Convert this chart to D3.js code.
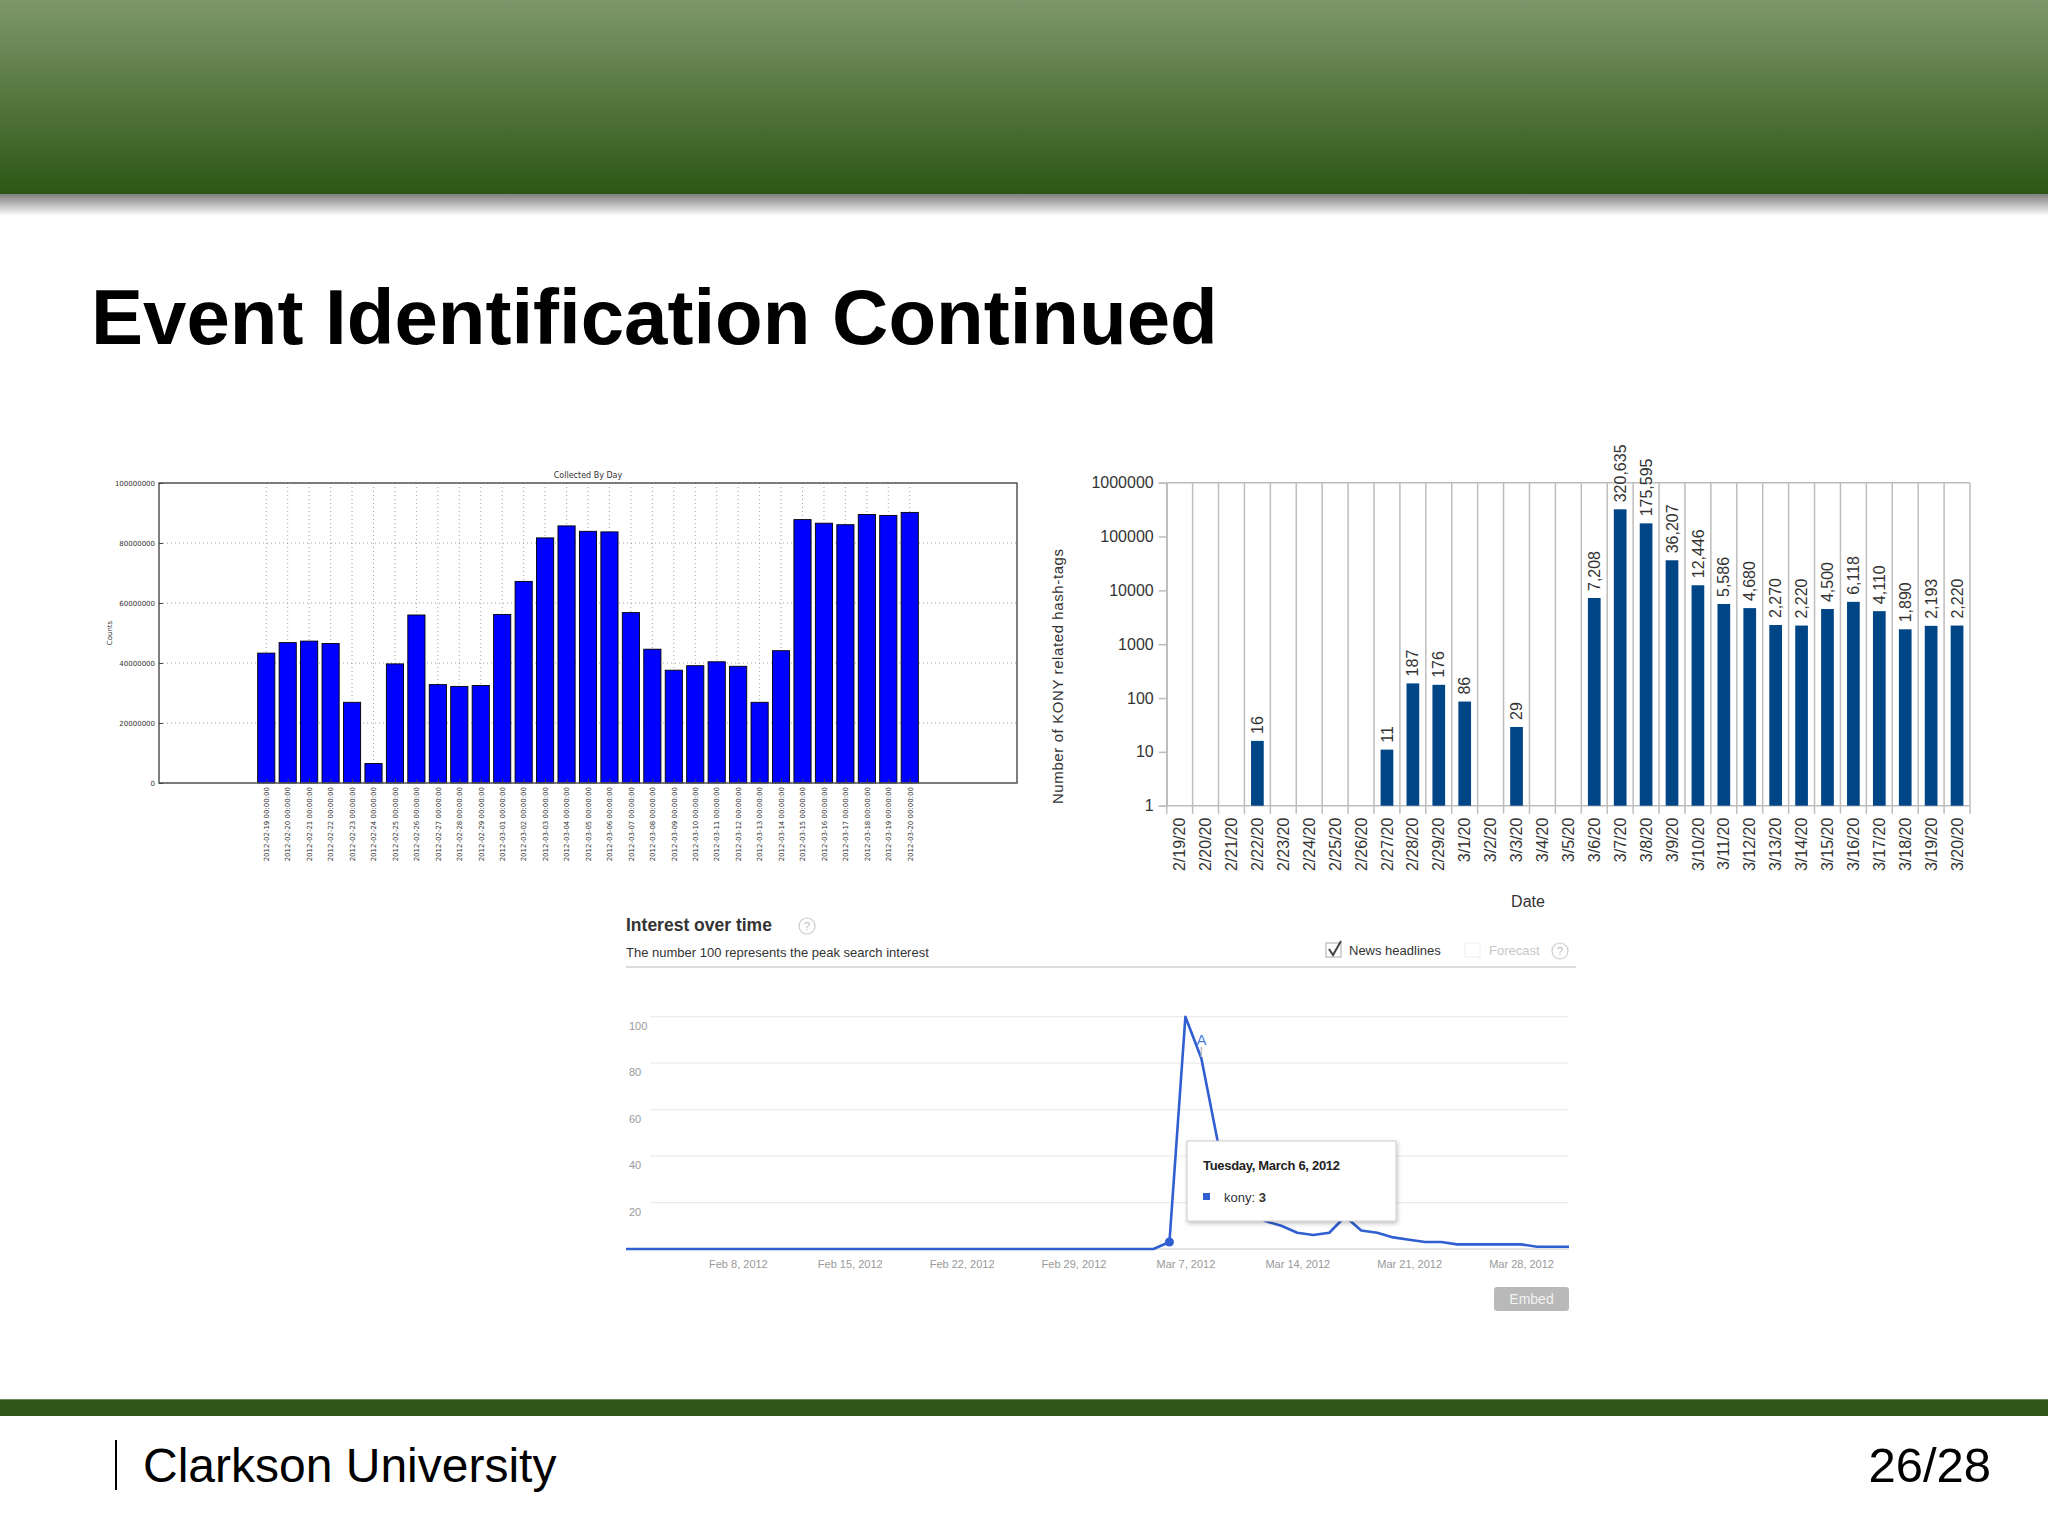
<!DOCTYPE html>
<html><head><meta charset="utf-8">
<script src="https://cdn.jsdelivr.net/npm/d3@7"></script>
<style>body{margin:0;background:#fff}svg{display:block}</style>
</head><body><svg id="s" width="2048" height="1536"></svg>
<script>
// ---------- DATA ----------
// Chart 1: Collected By Day (matplotlib)
const days1 = ["2012-02-19","2012-02-20","2012-02-21","2012-02-22","2012-02-23","2012-02-24","2012-02-25","2012-02-26","2012-02-27","2012-02-28","2012-02-29","2012-03-01","2012-03-02","2012-03-03","2012-03-04","2012-03-05","2012-03-06","2012-03-07","2012-03-08","2012-03-09","2012-03-10","2012-03-11","2012-03-12","2012-03-13","2012-03-14","2012-03-15","2012-03-16","2012-03-17","2012-03-18","2012-03-19","2012-03-20"];
const counts1 = [43300000,46800000,47300000,46500000,26900000,6500000,39700000,56000000,32800000,32200000,32500000,56200000,67200000,81700000,85700000,83900000,83700000,56800000,44600000,37600000,39100000,40400000,38900000,26900000,44100000,87800000,86600000,86100000,89500000,89200000,90200000];
const yTicks1 = [0,20000000,40000000,60000000,80000000,100000000];

// Chart 2: Number of KONY related hash-tags (log scale)
const dates2 = ["2/19/20","2/20/20","2/21/20","2/22/20","2/23/20","2/24/20","2/25/20","2/26/20","2/27/20","2/28/20","2/29/20","3/1/20","3/2/20","3/3/20","3/4/20","3/5/20","3/6/20","3/7/20","3/8/20","3/9/20","3/10/20","3/11/20","3/12/20","3/13/20","3/14/20","3/15/20","3/16/20","3/17/20","3/18/20","3/19/20","3/20/20"];
const tags2 = [null,null,null,16,null,null,null,null,11,187,176,86,null,29,null,null,7208,320635,175595,36207,12446,5586,4680,2270,2220,4500,6118,4110,1890,2193,2220];
const yTicks2 = [1,10,100,1000,10000,100000,1000000];

// Chart 3: Google Trends interest over time
const trendDates = ["2012-02-01","2012-02-02","2012-02-03","2012-02-04","2012-02-05","2012-02-06","2012-02-07","2012-02-08","2012-02-09","2012-02-10","2012-02-11","2012-02-12","2012-02-13","2012-02-14","2012-02-15","2012-02-16","2012-02-17","2012-02-18","2012-02-19","2012-02-20","2012-02-21","2012-02-22","2012-02-23","2012-02-24","2012-02-25","2012-02-26","2012-02-27","2012-02-28","2012-02-29","2012-03-01","2012-03-02","2012-03-03","2012-03-04","2012-03-05","2012-03-06","2012-03-07","2012-03-08","2012-03-09","2012-03-10","2012-03-11","2012-03-12","2012-03-13","2012-03-14","2012-03-15","2012-03-16","2012-03-17","2012-03-18","2012-03-19","2012-03-20","2012-03-21","2012-03-22","2012-03-23","2012-03-24","2012-03-25","2012-03-26","2012-03-27","2012-03-28","2012-03-29","2012-03-30","2012-03-31"];
const trendValues = [0,0,0,0,0,0,0,0,0,0,0,0,0,0,0,0,0,0,0,0,0,0,0,0,0,0,0,0,0,0,0,0,0,0,3,100,82,47,26,17,12,10,7,6,7,14,8,7,5,4,3,3,2,2,2,2,2,1,1,1];
const trendYTicks = [20,40,60,80,100];
const trendXTicks = ["2012-02-08","2012-02-15","2012-02-22","2012-02-29","2012-03-07","2012-03-14","2012-03-21","2012-03-28"];

// ---------- SLIDE ----------
const svg = d3.select("#s");
const defs = svg.append("defs");
const bg = defs.append("linearGradient").attr("id","banner").attr("x1",0).attr("y1",0).attr("x2",0).attr("y2",1);
bg.append("stop").attr("offset","0%").attr("stop-color","#7e976a");
bg.append("stop").attr("offset","100%").attr("stop-color","#2d5715");
const sh = defs.append("linearGradient").attr("id","shadow").attr("x1",0).attr("y1",0).attr("x2",0).attr("y2",1);
sh.append("stop").attr("offset","0%").attr("stop-color","#000").attr("stop-opacity",0.5);
sh.append("stop").attr("offset","100%").attr("stop-color","#000").attr("stop-opacity",0);
const tf = defs.append("filter").attr("id","tipShadow").attr("x","-10%").attr("y","-10%").attr("width","130%").attr("height","140%");
tf.append("feDropShadow").attr("dx",1).attr("dy",2).attr("stdDeviation",2).attr("flood-color","#000").attr("flood-opacity",0.25);

svg.append("rect").attr("x",0).attr("y",0).attr("width",2048).attr("height",1536).attr("fill","#fff");
svg.append("rect").attr("x",0).attr("y",0).attr("width",2048).attr("height",194).attr("fill","url(#banner)");
svg.append("rect").attr("x",0).attr("y",194).attr("width",2048).attr("height",22).attr("fill","url(#shadow)");

svg.append("text").attr("x",91).attr("y",344).attr("font-family","Liberation Sans, Arial, sans-serif")
  .attr("font-weight","bold").attr("font-size",78).attr("fill","#000").text("Event Identification Continued");

// footer
svg.append("rect").attr("x",0).attr("y",1399).attr("width",2048).attr("height",17).attr("fill","#31561a");
svg.append("line").attr("x1",0).attr("x2",2048).attr("y1",1399.5).attr("y2",1399.5).attr("stroke","#6f8c5c").attr("stroke-width",1);
svg.append("line").attr("x1",116).attr("x2",116).attr("y1",1440).attr("y2",1490).attr("stroke","#000").attr("stroke-width",2);
svg.append("text").attr("x",143).attr("y",1482).attr("font-family","Liberation Sans, Arial, sans-serif")
  .attr("font-size",48).attr("fill","#000").text("Clarkson University");
svg.append("text").attr("x",1991).attr("y",1482).attr("text-anchor","end").attr("font-family","Liberation Sans, Arial, sans-serif")
  .attr("font-size",49).attr("fill","#000").text("26/28");

// ---------- CHART 1 ----------
(function(){
  const c = {l:159, r:1017, t:483, b:783};
  const idx = days1.map((d,i)=>i);
  const x = d3.scaleLinear().domain([-5, days1.length + 4]).range([c.l, c.r]);
  const y = d3.scaleLinear().domain([0, 1e8]).range([c.b, c.t]);
  const g = svg.append("g").attr("font-family","DejaVu Sans, sans-serif");
  g.selectAll("line.hg").data(yTicks1).join("line").attr("class","hg")
    .attr("x1",c.l).attr("x2",c.r).attr("y1",d=>y(d)).attr("y2",d=>y(d))
    .attr("stroke","#8a8a8a").attr("stroke-width",0.8).attr("stroke-dasharray","1,3");
  g.selectAll("line.vg").data(idx).join("line").attr("class","vg")
    .attr("x1",d=>x(d)).attr("x2",d=>x(d)).attr("y1",c.t).attr("y2",c.b)
    .attr("stroke","#8a8a8a").attr("stroke-width",0.8).attr("stroke-dasharray","1,3");
  g.selectAll("rect.bar").data(counts1).join("rect").attr("class","bar")
    .attr("x",(d,i)=>x(i-0.4)).attr("width",x(0.8)-x(0))
    .attr("y",d=>y(d)).attr("height",d=>y(0)-y(d))
    .attr("fill","#0000ff").attr("stroke","#000").attr("stroke-width",0.9);
  g.append("rect").attr("x",c.l).attr("y",c.t).attr("width",c.r-c.l).attr("height",c.b-c.t)
    .attr("fill","none").attr("stroke","#555").attr("stroke-width",1.5);
  const ya = g.append("g").attr("transform",`translate(${c.l},0)`)
    .call(d3.axisLeft(y).tickValues(yTicks1).tickFormat(d3.format("d")).tickSizeInner(-4).tickSizeOuter(0).tickPadding(4));
  ya.select(".domain").remove();
  ya.selectAll("line").attr("stroke","#444");
  ya.selectAll("text").attr("font-size",7).attr("fill","#333").attr("font-family","DejaVu Sans, sans-serif");
  const xa = g.append("g").attr("transform",`translate(0,${c.b})`)
    .call(d3.axisBottom(x).tickValues(idx).tickFormat(i=>days1[i]+" 00:00:00").tickSizeInner(-4).tickSizeOuter(0).tickPadding(4));
  xa.select(".domain").remove();
  xa.selectAll("line").attr("stroke","#444");
  xa.selectAll("text").attr("font-size",7).attr("fill","#333").attr("font-family","DejaVu Sans, sans-serif")
    .attr("text-anchor","end").attr("transform","rotate(-90)").attr("x",-4).attr("y",0).attr("dy","0.32em");
  g.append("text").attr("x",(c.l+c.r)/2).attr("y",c.t-5).attr("text-anchor","middle")
    .attr("font-size",8).attr("fill","#333").text("Collected By Day");
  g.append("text").attr("transform",`translate(112,${(c.t+c.b)/2}) rotate(-90)`).attr("text-anchor","middle")
    .attr("font-size",7).attr("fill","#333").text("Counts");
})();

// ---------- CHART 2 ----------
(function(){
  const c = {l:1166.7, r:1970, t:482.7, b:805.7};
  const x = d3.scaleBand().domain(dates2).range([c.l, c.r]).padding(0);
  const y = d3.scaleLog().domain([1, 1e6]).range([c.b, c.t]);
  const bw = x.bandwidth();
  const g = svg.append("g").attr("font-family","Liberation Sans, Arial, sans-serif");
  const gridCol = "#bdbdbd";
  const edges = dates2.map(d=>x(d)).concat([c.r]);
  g.selectAll("line.vg").data(edges).join("line").attr("class","vg")
    .attr("x1",d=>d).attr("x2",d=>d).attr("y1",c.t).attr("y2",c.b+8)
    .attr("stroke",gridCol).attr("stroke-width",1.5);
  g.selectAll("line.hg").data([1e6, 1]).join("line").attr("class","hg")
    .attr("x1",c.l).attr("x2",c.r).attr("y1",d=>y(d)).attr("y2",d=>y(d))
    .attr("stroke",gridCol).attr("stroke-width",1.5);
  const ya = g.append("g").attr("transform",`translate(${c.l},0)`)
    .call(d3.axisLeft(y).tickValues(yTicks2).tickFormat(d3.format("d")).tickSize(8).tickPadding(5));
  ya.select(".domain").attr("stroke",gridCol).attr("stroke-width",1.5);
  ya.selectAll("line").attr("stroke",gridCol).attr("stroke-width",1.5);
  ya.selectAll("text").attr("font-size",16).attr("fill","#333").attr("font-family","Liberation Sans, Arial, sans-serif");
  const present = dates2.map((d,i)=>({d, v: tags2[i]})).filter(o=>o.v!=null);
  g.selectAll("rect.bar").data(present).join("rect").attr("class","bar")
    .attr("x",o=>x(o.d)+bw*0.255).attr("width",bw*0.49)
    .attr("y",o=>y(o.v)).attr("height",o=>y(1)-y(o.v))
    .attr("fill","#004586");
  g.selectAll("text.lab").data(present).join("text").attr("class","lab")
    .attr("transform",o=>`translate(${x(o.d)+bw/2},${y(o.v)-7}) rotate(-90)`)
    .attr("dy","0.35em").attr("font-size",16).attr("fill","#333").text(o=>d3.format(",")(o.v));
  const xa = g.append("g").attr("transform",`translate(0,${c.b})`)
    .call(d3.axisBottom(x).tickSize(0).tickPadding(0));
  xa.select(".domain").remove();
  xa.selectAll("text").attr("font-size",16).attr("fill","#333").attr("font-family","Liberation Sans, Arial, sans-serif")
    .attr("text-anchor","end").attr("transform","rotate(-90)").attr("x",-12).attr("y",0).attr("dy","0.35em");
  g.append("text").attr("transform",`translate(1063,${(c.t+c.b)/2+32}) rotate(-90)`).attr("text-anchor","middle")
    .attr("font-size",15).attr("letter-spacing",0.6).attr("fill","#333").text("Number of KONY related hash-tags");
  g.append("text").attr("x",1528).attr("y",907).attr("text-anchor","middle").attr("font-size",16).attr("fill","#333").text("Date");
})();

// ---------- CHART 3 ----------
(function(){
  const parse = d3.timeParse("%Y-%m-%d");
  const pts = trendDates.map((d,i)=>({d: parse(d), v: trendValues[i]}));
  const x = d3.scaleTime().domain([parse(trendDates[0]), parse(trendDates[trendDates.length-1])]).range([626, 1569]);
  const y = d3.scaleLinear().domain([0,100]).range([1249, 1016.7]);
  const g = svg.append("g").attr("font-family","Liberation Sans, Arial, sans-serif");
  g.append("text").attr("x",626).attr("y",931).attr("font-size",17.5).attr("font-weight","bold").attr("fill","#333").text("Interest over time");
  g.append("circle").attr("cx",807).attr("cy",926).attr("r",8).attr("fill","#fff").attr("stroke","#ccc").attr("stroke-width",1.2);
  g.append("text").attr("x",807).attr("y",930).attr("text-anchor","middle").attr("font-size",11).attr("fill","#bbb").text("?");
  g.append("text").attr("x",626).attr("y",957).attr("font-size",13).attr("fill","#333").text("The number 100 represents the peak search interest");
  g.append("line").attr("x1",626).attr("x2",1576).attr("y1",967).attr("y2",967).attr("stroke","#ddd").attr("stroke-width",2);
  g.append("rect").attr("x",1326).attr("y",943).attr("width",15).attr("height",14).attr("fill","#fff").attr("stroke","#aaa").attr("stroke-width",1);
  g.append("path").attr("d","M1329,949 L1333,955 L1341,941").attr("fill","none").attr("stroke","#444").attr("stroke-width",2);
  g.append("text").attr("x",1349).attr("y",955).attr("font-size",13).attr("fill","#333").text("News headlines");
  g.append("rect").attr("x",1465).attr("y",943).attr("width",15).attr("height",14).attr("fill","#fff").attr("stroke","#eee").attr("stroke-width",1);
  g.append("text").attr("x",1489).attr("y",955).attr("font-size",13).attr("fill","#c8c8c8").text("Forecast");
  g.append("circle").attr("cx",1560).attr("cy",951).attr("r",8).attr("fill","#fff").attr("stroke","#ccc").attr("stroke-width",1.2);
  g.append("text").attr("x",1560).attr("y",955).attr("text-anchor","middle").attr("font-size",11).attr("fill","#bbb").text("?");
  g.selectAll("line.hg").data(trendYTicks).join("line").attr("class","hg")
    .attr("x1",650).attr("x2",1568).attr("y1",d=>y(d)).attr("y2",d=>y(d))
    .attr("stroke","#ececec").attr("stroke-width",1.2);
  g.append("line").attr("x1",626).attr("x2",1569).attr("y1",y(0)).attr("y2",y(0)).attr("stroke","#ccc").attr("stroke-width",1);
  g.selectAll("text.yl").data(trendYTicks).join("text").attr("class","yl")
    .attr("x",629).attr("y",d=>y(d)+13).attr("font-size",11).attr("fill","#999").text(d=>d);
  const xa = g.append("g").attr("transform",`translate(0,${y(0)})`)
    .call(d3.axisBottom(x).tickValues(trendXTicks.map(parse)).tickFormat(d3.timeFormat("%b %-d, %Y")).tickSize(0).tickPadding(11));
  xa.select(".domain").remove();
  xa.selectAll("text").attr("font-size",11).attr("fill","#999").attr("font-family","Liberation Sans, Arial, sans-serif");
  const line = d3.line().x(p=>x(p.d)).y(p=>y(p.v));
  g.append("path").datum(pts).attr("d",line).attr("fill","none").attr("stroke","#2f5fd0").attr("stroke-width",2.6).attr("stroke-linejoin","round");
  const sel = pts[trendDates.indexOf("2012-03-06")];
  g.append("circle").attr("cx",x(sel.d)).attr("cy",y(sel.v)).attr("r",4.5).attr("fill","#2f5fd0");
  const aPt = pts[trendDates.indexOf("2012-03-08")];
  g.append("line").attr("x1",x(aPt.d)).attr("x2",x(aPt.d)).attr("y1",1047).attr("y2",1057).attr("stroke","#bbb").attr("stroke-width",1.5);
  g.append("text").attr("x",x(aPt.d)).attr("y",1045).attr("text-anchor","middle").attr("font-size",15).attr("fill","#4f7be0").text("A");
  g.append("rect").attr("x",1187).attr("y",1141).attr("width",209).attr("height",80).attr("fill","#fff")
    .attr("stroke","#ccc").attr("stroke-width",1).attr("filter","url(#tipShadow)");
  g.append("text").attr("x",1203).attr("y",1170).attr("font-size",13).attr("font-weight","bold").attr("fill","#222")
    .attr("letter-spacing",-0.3).text("Tuesday, March 6, 2012");
  g.append("rect").attr("x",1203).attr("y",1193).attr("width",7).attr("height",7).attr("fill","#2f5fd0");
  const kt = g.append("text").attr("x",1224).attr("y",1202).attr("font-size",13).attr("fill","#333");
  kt.append("tspan").text("kony: ");
  kt.append("tspan").attr("font-weight","bold").text(String(sel.v));
  g.append("rect").attr("x",1494).attr("y",1287).attr("width",75).attr("height",24).attr("rx",3).attr("fill","#b9b9b9");
  g.append("text").attr("x",1531.5).attr("y",1304).attr("text-anchor","middle").attr("font-size",14).attr("fill","#f2f2f2").text("Embed");
})();
</script>
</body></html>
